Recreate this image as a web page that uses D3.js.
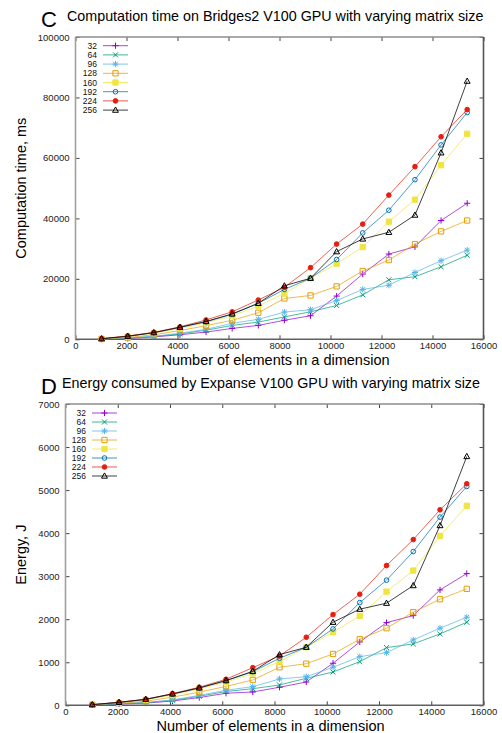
<!DOCTYPE html>
<html><head><meta charset="utf-8">
<script src="https://cdn.jsdelivr.net/npm/d3@7"></script>
<style>
body{margin:0;background:#fff;}
svg{display:block;font-family:"Liberation Sans",Arial,Helvetica,sans-serif;}
</style></head>
<body>
<svg id="c" width="502" height="733"></svg>
<script>
// ---------- data ----------
const matrixSizes = [1024, 2048, 3072, 4096, 5120, 6144, 7168, 8192, 9216, 10240, 11264, 12288, 13312, 14336, 15360];
const seriesNames = ["32", "64", "96", "128", "160", "192", "224", "256"];
const seriesColors = ["#9400d3", "#009e73", "#56b4e9", "#e69f00", "#f0e442", "#0072b2", "#e51e10", "#000000"];
const seriesSymbols = ["plus", "cross", "star", "square", "squareFill", "circle", "circleFill", "triangle"];

// Panel C: computation time (ms)
const time32  = [100, 300, 800, 1500, 2400, 3600, 4600, 6300, 7800, 14300, 21600, 28200, 30600, 39300, 45000];
const time64  = [100, 400, 900, 1800, 3000, 4600, 5700, 7400, 9100, 11200, 14700, 19700, 20700, 24000, 27800];
const time96  = [100, 400, 1000, 2000, 3300, 5300, 6600, 9000, 9800, 12800, 16500, 17900, 22100, 26000, 29500];
const time128 = [100, 600, 1500, 2900, 4500, 6300, 8800, 13500, 14500, 17500, 22600, 26200, 31500, 35700, 39300];
const time160 = [200, 900, 2000, 3600, 5500, 7800, 11000, 15200, 20200, 25000, 30500, 38900, 46200, 57600, 68000];
const time192 = [200, 1000, 2200, 3900, 5800, 8300, 11900, 16500, 20200, 26400, 35200, 42700, 52800, 64300, 75000];
const time224 = [200, 1100, 2300, 4100, 6400, 9100, 13000, 17200, 23700, 31500, 38100, 47700, 57100, 67000, 76000];
const time256 = [200, 1000, 2200, 4000, 5900, 8400, 11900, 17700, 20200, 29000, 33200, 35400, 41100, 61700, 85400];

// Panel D: energy (J)
const energy32  = [10, 30, 50, 100, 180, 280, 310, 419, 542, 977, 1472, 1921, 2084, 2681, 3060];
const energy64  = [10, 35, 60, 115, 210, 320, 386, 472, 628, 774, 1014, 1340, 1426, 1658, 1930];
const energy96  = [10, 40, 65, 125, 230, 350, 433, 612, 665, 884, 1130, 1224, 1519, 1791, 2047];
const energy128 = [15, 50, 95, 190, 305, 440, 588, 884, 967, 1193, 1535, 1791, 2163, 2465, 2705];
const energy160 = [15, 60, 125, 240, 380, 540, 740, 1014, 1349, 1698, 2077, 2642, 3130, 3937, 4635];
const energy192 = [15, 65, 135, 260, 400, 570, 781, 1093, 1349, 1774, 2386, 2907, 3572, 4372, 5084];
const energy224 = [15, 70, 140, 270, 420, 605, 874, 1147, 1581, 2107, 2581, 3247, 3851, 4542, 5147];
const energy256 = [15, 70, 140, 265, 405, 575, 790, 1177, 1349, 1930, 2233, 2372, 2782, 4177, 5781];

const xTicks = [0, 2000, 4000, 6000, 8000, 10000, 12000, 14000, 16000];
const timeTicks = [0, 20000, 40000, 60000, 80000, 100000];
const energyTicks = [0, 1000, 2000, 3000, 4000, 5000, 6000, 7000];

const timeSeries = [time32, time64, time96, time128, time160, time192, time224, time256];
const energySeries = [energy32, energy64, energy96, energy128, energy160, energy192, energy224, energy256];

// ---------- drawing ----------
const svg = d3.select("#c");

function symbolPath(type, s) {
  const h = s / 2;
  switch (type) {
    case "plus": return `M${-h},0H${h}M0,${-h}V${h}`;
    case "cross": return `M${-h*0.8},${-h*0.8}L${h*0.8},${h*0.8}M${-h*0.8},${h*0.8}L${h*0.8},${-h*0.8}`;
    case "star": return `M${-h},0H${h}M0,${-h}V${h}M${-h*0.75},${-h*0.75}L${h*0.75},${h*0.75}M${-h*0.75},${h*0.75}L${h*0.75},${-h*0.75}`;
    case "square": case "squareFill": return `M${-h*0.85},${-h*0.85}H${h*0.85}V${h*0.85}H${-h*0.85}Z`;
    case "circle": case "circleFill": { const r = h*0.75; return `M${r},0A${r},${r} 0 1,1 ${-r},0A${r},${r} 0 1,1 ${r},0Z`; }
    case "triangle": return `M0,${-h}L${h*0.95},${h*0.7}L${-h*0.95},${h*0.7}Z`;
  }
}
function drawMarker(g, type, color, x, y) {
  const filled = type === "squareFill" || type === "circleFill";
  g.append("path")
    .attr("transform", `translate(${x},${y})`)
    .attr("d", symbolPath(type, 6.2))
    .attr("fill", filled ? color : "none")
    .attr("stroke", color)
    .attr("stroke-width", 1);
}

function panel(cfg) {
  const x = d3.scaleLinear().domain([0, 16000]).range([cfg.left, cfg.right]);
  const y = d3.scaleLinear().domain([0, cfg.yMax]).range([cfg.bottom, cfg.top]);
  const g = svg.append("g");

  const axB = d3.axisBottom(x).tickValues(xTicks).tickSizeInner(-4).tickSizeOuter(0).tickPadding(4.5).tickFormat(d3.format("d"));
  const gb = g.append("g").attr("transform", `translate(0,${cfg.bottom})`).call(axB);
  const axT = d3.axisTop(x).tickValues(xTicks).tickSizeInner(-4).tickSizeOuter(0).tickFormat("");
  const gt = g.append("g").attr("transform", `translate(0,${cfg.top})`).call(axT);
  const axL = d3.axisLeft(y).tickValues(cfg.yTicks).tickSizeInner(-4).tickSizeOuter(0).tickPadding(6).tickFormat(d3.format("d"));
  const gl = g.append("g").attr("transform", `translate(${cfg.left},0)`).call(axL);
  const axR = d3.axisRight(y).tickValues(cfg.yTicks).tickSizeInner(-4).tickSizeOuter(0).tickFormat("");
  const gr = g.append("g").attr("transform", `translate(${cfg.right},0)`).call(axR);
  [gb, gt, gl, gr].forEach(a => {
    a.select(".domain").remove();
    a.selectAll(".tick line").attr("stroke", "#444").attr("stroke-width", 1);
    a.selectAll("text").attr("font-size", 9.5).attr("fill", "#222")
      .attr("font-family", '"Liberation Sans",Arial,sans-serif');
  });
  gb.selectAll(".tick text").attr("dy", "0.6em");

  // frame
  g.append("line").attr("x1", cfg.left).attr("x2", cfg.left).attr("y1", cfg.top).attr("y2", cfg.bottom).attr("stroke", "#a0a0a0").attr("stroke-width", 1.6);
  g.append("line").attr("x1", cfg.left).attr("x2", cfg.right).attr("y1", cfg.top).attr("y2", cfg.top).attr("stroke", "#8c8c8c").attr("stroke-width", 1.4);
  g.append("line").attr("x1", cfg.right).attr("x2", cfg.right).attr("y1", cfg.top).attr("y2", cfg.bottom).attr("stroke", "#555").attr("stroke-width", 1.6);
  g.append("line").attr("x1", cfg.left).attr("x2", cfg.right).attr("y1", cfg.bottom).attr("y2", cfg.bottom).attr("stroke", "#606060").attr("stroke-width", 1.6);

  // series
  const line = d3.line().x((d, i) => x(matrixSizes[i])).y(d => y(d));
  cfg.series.forEach((vals, si) => {
    const col = seriesColors[si];
    g.append("path").attr("d", line(vals)).attr("fill", "none")
      .attr("stroke", col).attr("stroke-width", 1).attr("stroke-opacity", si === 7 ? 0.75 : 0.7);
    vals.forEach((v, i) => drawMarker(g, seriesSymbols[si], col, x(matrixSizes[i]), y(v)));
  });

  // legend
  seriesNames.forEach((nm, si) => {
    const ly = cfg.legY + si * cfg.legStep;
    g.append("text").attr("x", cfg.legTextX).attr("y", ly).attr("dy", "0.36em")
      .attr("text-anchor", "end").attr("font-size", 8.5).attr("fill", "#111").text(nm);
    g.append("line").attr("x1", cfg.legTextX + 6).attr("x2", cfg.legTextX + 31)
      .attr("y1", ly).attr("y2", ly).attr("stroke", seriesColors[si]).attr("stroke-width", 1).attr("stroke-opacity", 0.75);
    drawMarker(g, seriesSymbols[si], seriesColors[si], cfg.legTextX + 18.5, ly);
  });

  // titles and labels
  svg.append("text").attr("x", 41).attr("y", cfg.letterY).attr("font-size", 22).attr("fill", "#000").text(cfg.letter);
  svg.append("text").attr("x", cfg.titleX).attr("y", cfg.titleY).attr("font-size", 14.3).attr("fill", "#000").text(cfg.title);
  svg.append("text").attr("x", (cfg.left + cfg.right) / 2 - 4).attr("y", cfg.bottom + 25.5)
    .attr("text-anchor", "middle").attr("font-size", 14.5).attr("fill", "#000").text("Number of elements in a dimension");
  svg.append("text").attr("transform", `translate(26,${(cfg.top + cfg.bottom) / 2}) rotate(-90)`)
    .attr("text-anchor", "middle").attr("font-size", 14.5).attr("fill", "#000").text(cfg.yLabel);
}

panel({
  left: 75.5, right: 483.5, top: 37, bottom: 339.3, yMax: 100000, yTicks: timeTicks,
  series: timeSeries, legTextX: 97, legY: 45.7, legStep: 9.2,
  letter: "C", letterY: 27, title: "Computation time on Bridges2 V100 GPU with varying matrix size", titleX: 67, titleY: 21,
  yLabel: "Computation time, ms"
});
panel({
  left: 65.5, right: 483.5, top: 404, bottom: 705.3, yMax: 7000, yTicks: energyTicks,
  series: energySeries, legTextX: 86, legY: 413, legStep: 9,
  letter: "D", letterY: 394, title: "Energy consumed by Expanse V100 GPU with varying matrix size", titleX: 62, titleY: 388,
  yLabel: "Energy, J"
});
</script>
</body></html>
